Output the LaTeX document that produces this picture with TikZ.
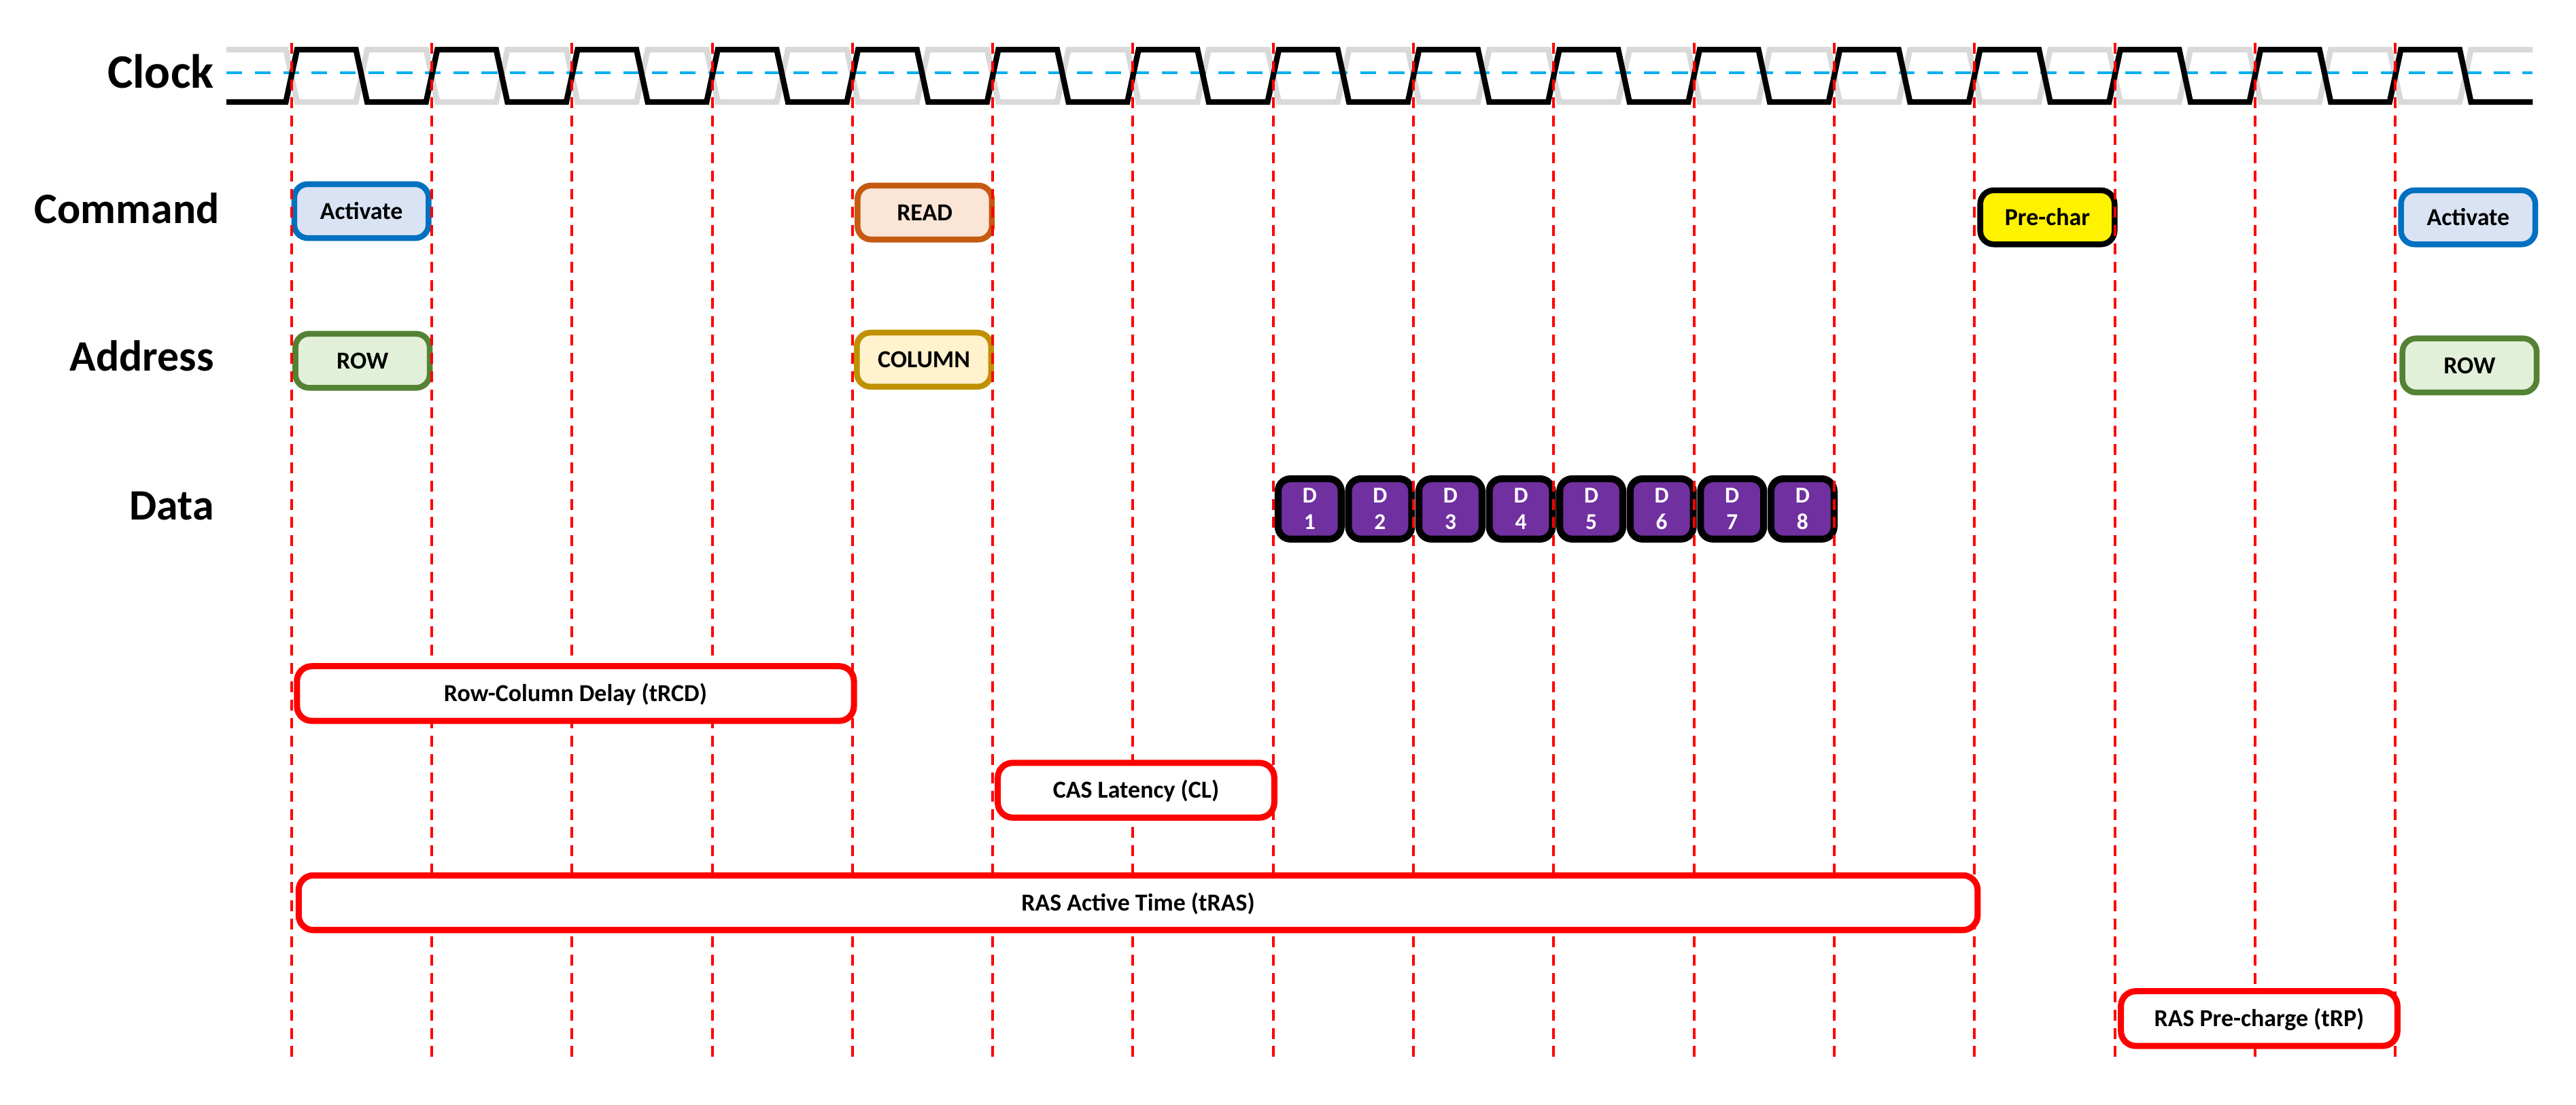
\documentclass[tikz,border=0pt]{standalone}
\usepackage{fontspec}
\setmainfont{Carlito}
\definecolor{actline}{HTML}{0070C0}
\definecolor{actfill}{HTML}{DAE3F3}
\definecolor{readline}{HTML}{C55A11}
\definecolor{readfill}{HTML}{FBE5D6}
\definecolor{rowline}{HTML}{548235}
\definecolor{rowfill}{HTML}{E2F0D9}
\definecolor{colline}{HTML}{BF9000}
\definecolor{colfill}{HTML}{FFF2CC}
\definecolor{datafill}{HTML}{7030A0}
\definecolor{clkgray}{HTML}{D9D9D9}
\definecolor{clkblue}{HTML}{00B0F0}

\begin{document}
\begin{tikzpicture}[x=2cm, y=2cm,
    rowlabel/.style={anchor=base east, inner sep=0pt, font=\fontsize{17.6}{20}\selectfont\bfseries},
    cmdbox/.style 2 args={draw=#1, fill=#2, line width=2.35pt, rounded corners=5.5pt,
        minimum width=1.915cm, minimum height=0.77cm, inner sep=0pt,
        text height=6.4pt, text depth=0pt, font=\fontsize{9.9}{12}\selectfont\bfseries},
    databox/.style={draw=black, fill=datafill, line width=2.8pt, rounded corners=5pt,
        minimum width=0.9cm, minimum height=0.86cm, inner sep=0pt, text=white, align=center,
        font=\fontsize{9.2}{10.8}\selectfont\bfseries},
    timebox/.style={draw=red, fill=white, line width=2.5pt, rounded corners=6pt,
        minimum width=#1*2cm+0.03cm-2.5pt, minimum height=0.78cm, inner sep=0pt,
        text height=6.4pt, text depth=0pt, font=\fontsize{9.9}{12}\selectfont\bfseries},
    gridline/.style={red, line width=1.1pt, dash pattern=on 4.4pt off 3pt}
]
    \fill[white, use as bounding box] (-2.078,0) rectangle (16.289,-7.877);

    \draw[clkgray, line width=2.3pt] (-0.463,-0.354) -- (-0.04,-0.354)
        foreach \k in {0,...,15} { -- (\k+0.04,-0.727) -- (\k+0.46,-0.727) -- (\k+0.54,-0.354) -- (\k+0.96,-0.354) }
        -- (15.98,-0.354);
    \draw[clkblue, line width=1.3pt, dash pattern=on 6.4pt off 5.1pt] (-0.463,-0.519) -- (15.98,-0.519);
    \draw[black, line width=2.3pt] (-0.463,-0.727) -- (-0.04,-0.727)
        foreach \k in {0,...,15} { -- (\k+0.04,-0.354) -- (\k+0.46,-0.354) -- (\k+0.54,-0.727) -- (\k+0.96,-0.727) }
        -- (15.98,-0.727);

    \node[rowlabel, font=\fontsize{19.5}{22}\selectfont\bfseries] (clk) at (-0.55,-0.630) {Clock};
    \foreach \nm/\txt/\x/\y in {cmd/Command/-0.51/-1.590, addr/Address/-0.55/-2.642, data/Data/-0.55/-3.708}
        \node[rowlabel] (\nm) at (\x,\y) {\txt};

    \node[cmdbox={actline}{actfill}] (act1) at (0.499,-1.505) {Activate};
    \node[cmdbox={readline}{readfill}] (read) at (4.515,-1.515) {READ};
    \node[cmdbox={black}{yellow}] (pre) at (12.52,-1.549) {Pre-char};
    \node[cmdbox={actline}{actfill}] (act2) at (15.52,-1.549) {Activate};

    \node[cmdbox={rowline}{rowfill}] (row1) at (0.507,-2.572) {ROW};
    \node[cmdbox={colline}{colfill}] (col) at (4.51,-2.564) {COLUMN};
    \node[cmdbox={rowline}{rowfill}] (row2) at (15.53,-2.605) {ROW};

    \foreach \i in {1,...,8}
        \node[databox] (d\i) at ({7.26+(\i-1)*0.502},-3.628) {D\\\i};

    \foreach \n in {0,...,15}
        \draw[gridline] (\n,-0.305) -- (\n,-7.577);

    \node[timebox=4] (trcd) at (2.025,-4.944) {Row-Column Delay (tRCD)};
    \node[timebox=2] (cl) at (6.022,-5.633) {CAS Latency (CL)};
    \node[timebox=12] (tras) at (6.037,-6.435) {RAS Active Time (tRAS)};
    \node[timebox=2] (trp) at (14.03,-7.261) {RAS Pre-charge (tRP)};
\end{tikzpicture}
\end{document}
